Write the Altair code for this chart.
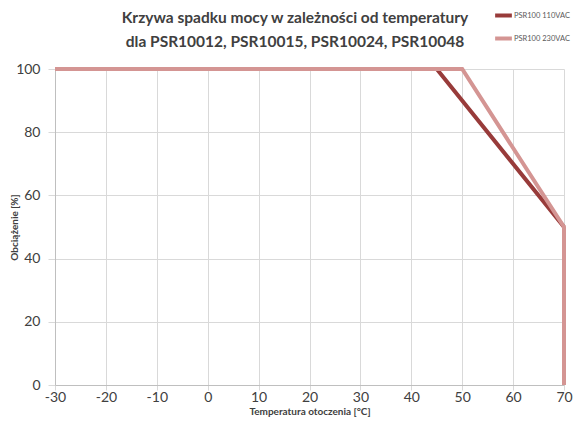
import altair as alt
import pandas as pd

series_110 = "PSR100 110VAC"
series_230 = "PSR100 230VAC"
temp_110 = [-30, 45, 70]
load_110 = [100, 100, 50]
temp_230 = [-30, 50, 70, 70]
load_230 = [100, 100, 50, 0]
x_ticks = [-30, -20, -10, 0, 10, 20, 30, 40, 50, 60, 70]
y_ticks = [0, 20, 40, 60, 80, 100]
title_lines = ["Krzywa spadku mocy w zależności od temperatury",
               "dla PSR10012, PSR10015, PSR10024, PSR10048"]

rows = []
for i, (t, l) in enumerate(zip(temp_110, load_110)):
    rows.append({"series": series_110, "t": t, "load": l, "o": i})
for i, (t, l) in enumerate(zip(temp_230, load_230)):
    rows.append({"series": series_230, "t": t, "load": l, "o": i})
df = pd.DataFrame(rows)
title_df = pd.DataFrame({"line": title_lines, "k": [0, 1]})

FONT = "Lato"
W, H = 509, 316

lines = alt.Chart(df).mark_line(strokeWidth=4, strokeCap="butt", strokeJoin="miter").encode(
    x=alt.X("t:Q", scale=alt.Scale(domain=[-30, 70], nice=False, zero=False),
            axis=alt.Axis(values=x_ticks, title="Temperatura otoczenia [°C]", grid=True,
                          gridColor="#d9d9d9", domainColor="#bfbfbf", tickColor="#d9d9d9",
                          tickSize=5, labelFontSize=14, labelColor="#404040",
                          labelExpr="'' + datum.value",
                          labelFont=FONT, labelPadding=0, titleFont=FONT, titleFontSize=10,
                          titleFontWeight="bold", titleColor="#404040", titlePadding=2,
                          labelFlush=False)),
    y=alt.Y("load:Q", scale=alt.Scale(domain=[0, 100], nice=False),
            axis=alt.Axis(values=y_ticks, title="Obciążenie [%]", grid=True,
                          gridColor="#d9d9d9", domainColor="#bfbfbf", tickColor="#d9d9d9",
                          tickSize=7, labelFontSize=14, labelColor="#404040",
                          labelFont=FONT, labelPadding=8, titleFont=FONT, titleFontSize=10,
                          titleFontWeight="bold", titleColor="#404040",
                          titleX=-41, titleBaseline="middle")),
    color=alt.Color("series:N",
                    scale=alt.Scale(domain=[series_110, series_230], range=["#983b3a", "#d49593"]),
                    legend=alt.Legend(title=None, orient="none", legendX=438, legendY=-64,
                                      symbolType="stroke", symbolStrokeWidth=4, symbolSize=280,
                                      labelFontSize=7.5, labelFont=FONT, labelColor="#595959",
                                      rowPadding=4, labelOffset=0)),
    order="o:Q",
)

title = alt.Chart(title_df).mark_text(font=FONT, fontSize=15.5, fontWeight="bold",
                                      color="#404040", align="center", baseline="middle").encode(
    text="line:N",
    x=alt.value(240),
    y=alt.Y("k:Q", scale=alt.Scale(domain=[0, 1], range=[-51, -27]), axis=None),
)

chart = alt.layer(lines, title).resolve_scale(y="independent").properties(
    width=W, height=H,
    padding={"left": 47, "top": 61, "right": 10, "bottom": 33},
    autosize=alt.AutoSizeParams(type="none"),
).configure_view(stroke=None)

chart.save("out.html", embed_options={"renderer": "svg", "actions": False})
